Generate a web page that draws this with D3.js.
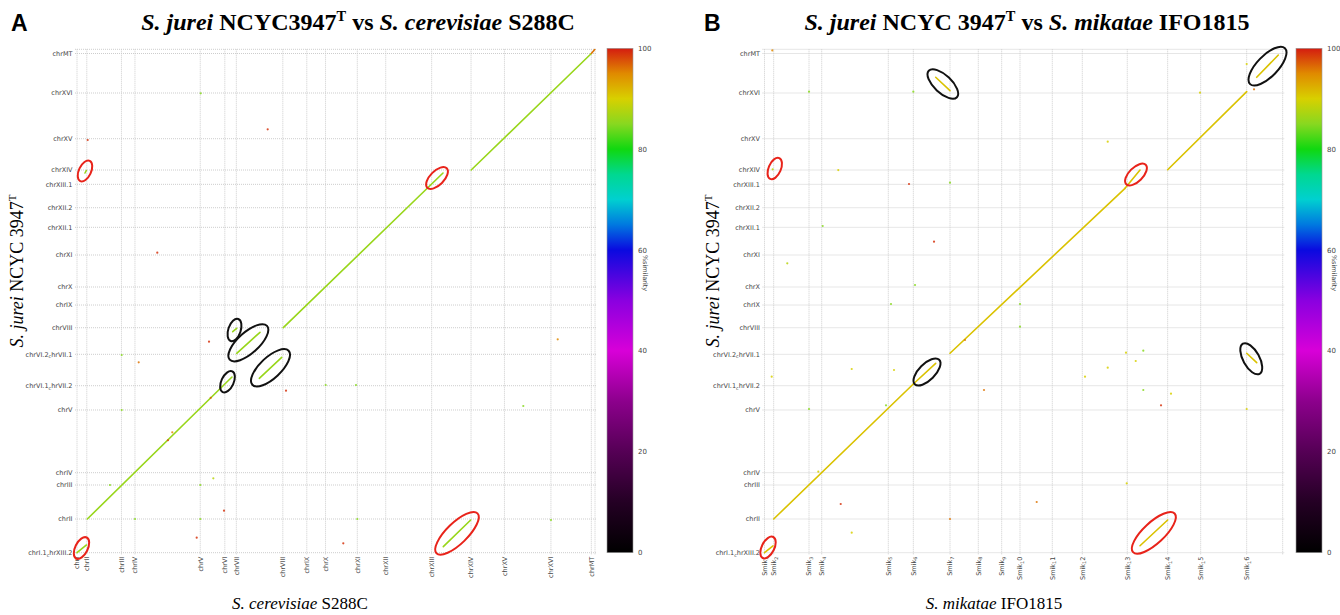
<!DOCTYPE html>
<html>
<head>
<meta charset="utf-8">
<script src="https://cdn.jsdelivr.net/npm/d3@7"></script>
<style>
  body { margin: 0; background: #fff; }
  svg { display: block; }
</style>
</head>
<body>
<svg id="chart" width="1340" height="615"></svg>
<script>
'use strict';

// chromosome order and sizes (kb), query genome S. jurei on y for both panels
const jureiChroms = ['chrI.1_chrXIII.2', 'chrII', 'chrIII', 'chrIV', 'chrV', 'chrVI.1_chrVII.2', 'chrVI.2_chrVII.1',
  'chrVIII', 'chrIX', 'chrX', 'chrXI', 'chrXII.1', 'chrXII.2', 'chrXIII.1', 'chrXIV', 'chrXV', 'chrXVI', 'chrMT'];
const jureiLengths = [791, 798, 289, 1472, 570, 737, 624, 533, 423, 751, 650, 460, 549, 336, 735, 1073, 927, 99];

const cerevisiaeChroms = ['chrI', 'chrII', 'chrIII', 'chrIV', 'chrV', 'chrVI', 'chrVII', 'chrVIII', 'chrIX', 'chrX',
  'chrXI', 'chrXII', 'chrXIII', 'chrXIV', 'chrXV', 'chrXVI', 'chrMT'];
const cerevisiaeLengths = [230, 813, 317, 1532, 577, 270, 1091, 563, 440, 745, 667, 1078, 924, 784, 1091, 948, 86];

const mikataeChroms = ['Smik_1', 'Smik_2', 'Smik_3', 'Smik_4', 'Smik_5', 'Smik_6', 'Smik_7', 'Smik_8', 'Smik_9',
  'Smik_10', 'Smik_11', 'Smik_12', 'Smik_13', 'Smik_14', 'Smik_15', 'Smik_16'];
const mikataeLengths = [216, 829, 298, 1563, 587, 861, 664, 549, 430, 758, 704, 1056, 948, 775, 1080, 845];

// alignments: [refStart, queryStart, refEnd, queryEnd, %similarity] in cumulative kb
const alignmentsA = [
  [0, 0, 223, 181, 86],
  [242, 791, 3637, 4124, 86],
  [3654, 5188, 3748, 5268, 86],
  [3748, 4681, 4294, 5174, 86],
  [4278, 4094, 4804, 4587, 86],
  [4841, 5282, 8589, 8913, 86],
  [8596, 141, 9239, 768, 86],
  [9250, 8983, 12070, 11718, 86],
  [12070, 11718, 12150, 11810, 96],
  [188, 8913, 218, 8972, 86]
];
const alignmentsB = [
  [0, 0, 200, 160, 91],
  [216, 791, 3493, 3960, 91],
  [3493, 3960, 4018, 4446, 91],
  [4018, 11160, 4354, 10845, 91],
  [4354, 4681, 8462, 8554, 91],
  [8462, 8554, 8814, 8983, 91],
  [8814, 164, 9463, 768, 91],
  [9463, 8990, 11318, 10822, 91],
  [11318, 4681, 11553, 4460, 91],
  [11553, 11160, 12060, 11683, 91]
];

// short scattered hits: [ref, query, %similarity]
const hitsA = [
  [2903, 10784, 85], [4475, 9939, 99], [251, 9688, 99], [1884, 7042, 99], [3098, 4953, 99],
  [1448, 4469, 96], [1049, 4641, 85], [1049, 3350, 85], [4905, 3803, 99], [2236, 2826, 95],
  [3199, 1746, 88], [774, 1589, 85], [2893, 1589, 85], [3450, 986, 99], [1361, 791, 85],
  [2893, 791, 85], [2809, 352, 99], [11281, 5009, 95], [5836, 3937, 85], [6547, 3937, 85],
  [10473, 3444, 85], [6578, 791, 85], [11123, 768, 85], [6249, 221, 99], [2135, 2640, 98],
  [3138, 3635, 97]
];
const hitsB = [
  [183, 11790, 95], [1045, 10822, 85], [3493, 10822, 85], [1732, 8983, 90], [3392, 8655, 99],
  [4354, 8685, 85], [1366, 7669, 85], [3979, 7300, 99], [535, 6793, 88], [3533, 6284, 85],
  [2969, 5838, 85], [5997, 5838, 85], [5997, 5305, 85], [4706, 4993, 96], [2047, 4312, 90],
  [3040, 4289, 90], [169, 4131, 90], [5152, 3819, 96], [2852, 3460, 85], [1045, 3373, 85],
  [1263, 1901, 90], [1789, 1143, 99], [6389, 1190, 96], [4354, 791, 96], [2047, 469, 90],
  [8485, 4695, 90], [8891, 4742, 85], [8713, 4500, 90], [8056, 4343, 90], [7523, 4131, 90],
  [8891, 3819, 85], [9541, 3732, 90], [9307, 3460, 99], [11318, 3373, 90], [8502, 1629, 90],
  [8056, 9648, 90], [10222, 10798, 90], [11490, 10878, 96], [11318, 11472, 90], [192, 9000, 88]
];

// highlighted regions: [refStart, queryStart, refEnd, queryEnd, kind]
const ringsA = [
  [171, 8925, 204, 8995, 'translocation'],
  [82, 63, 129, 157, 'translocation'],
  [8378, 8725, 8519, 8866, 'translocation'],
  [8596, 141, 9239, 768, 'translocation'],
  [3680, 5181, 3712, 5275, 'rearrangement'],
  [3748, 4681, 4294, 5174, 'rearrangement'],
  [4278, 4094, 4804, 4587, 'rearrangement'],
  [3513, 3972, 3551, 4054, 'rearrangement']
];
const ringsB = [
  [59, 75, 106, 169, 'translocation'],
  [223, 8979, 258, 9059, 'translocation'],
  [8649, 8807, 8790, 8948, 'translocation'],
  [8814, 164, 9463, 768, 'translocation'],
  [3685, 4113, 3943, 4371, 'rearrangement'],
  [4018, 11160, 4354, 10845, 'rearrangement'],
  [11553, 11160, 12060, 11683, 'rearrangement'],
  [11337, 4711, 11513, 4394, 'rearrangement']
];

// colour bar
const similarityStops = [0, 10, 20, 30, 40, 50, 60, 65, 70, 75, 80, 85, 90, 95, 100];
const similarityColors = ['#000000', '#240024', '#550055', '#8c008c', '#d800d8', '#8a00e0', '#0a0ae0', '#0078e0',
  '#00d0d0', '#00d890', '#10d810', '#88d820', '#d8d000', '#e08a00', '#d41c10'];
const barTicks = [0, 20, 40, 60, 80, 100];

const color = d3.scaleLinear().domain(similarityStops).range(similarityColors);
const ringColor = { translocation: '#e8231a', rearrangement: '#111111' };

const svg = d3.select('#chart');
const defs = svg.append('defs');
const grad = defs.append('linearGradient')
  .attr('id', 'simGrad')
  .attr('x1', 0).attr('y1', 1).attr('x2', 0).attr('y2', 0);
grad.selectAll('stop')
  .data(similarityStops)
  .join('stop')
  .attr('offset', d => d / 100)
  .attr('stop-color', (d, i) => similarityColors[i]);

const cumStarts = lengths => lengths.reduce((acc, l, i) => acc.concat(i ? acc[i - 1] + lengths[i - 1] : 0), []);

// "chrVI.2_chrVII.1" -> subscript the char after "_" (matplotlib style)
function subLabel(text, name) {
  const parts = name.split('_');
  text.append('tspan').text(parts[0]);
  parts.slice(1).forEach(p => {
    text.append('tspan').attr('dy', 1.6).attr('font-size', '75%').text(p[0]);
    text.append('tspan').attr('dy', -1.6).text(p.slice(1));
  });
}

function richText(text, parts, size) {
  let back = 0;
  parts.forEach(([str, style]) => {
    const t = text.append('tspan').text(str);
    if (style === 'i') t.attr('font-style', 'italic');
    if (style === 'sup') {
      t.attr('font-size', size * 0.6).attr('dy', -size * 0.38);
      back = size * 0.38;
    } else if (back) {
      t.attr('dy', back);
      back = 0;
    }
  });
}

const panels = [
  {
    letter: 'A', letterX: 11, titleX: 358, yTitleX: 23,
    title: [['S. jurei', 'i'], [' NCYC3947', ''], ['T', 'sup'], [' vs  ', ''], ['S. cerevisiae', 'i'], [' S288C', '']],
    xTitle: [['S. cerevisiae', 'i'], [' S288C', '']], xTitleX: 300,
    xChroms: cerevisiaeChroms, xLengths: cerevisiaeLengths,
    alignments: alignmentsA, hits: hitsA, rings: ringsA,
    left: 77, right: 595, barX: 607
  },
  {
    letter: 'B', letterX: 704, titleX: 1027, yTitleX: 719,
    title: [['S. jurei', 'i'], [' NCYC 3947', ''], ['T', 'sup'], [' vs  ', ''], ['S. mikatae', 'i'], [' IFO1815', '']],
    xTitle: [['S. mikatae', 'i'], [' IFO1815', '']], xTitleX: 994,
    xChroms: mikataeChroms, xLengths: mikataeLengths,
    alignments: alignmentsB, hits: hitsB, rings: ringsB,
    left: 764.5, right: 1282.7, barX: 1296
  }
];

const plotTop = 49.3;
const plotBottom = 552.7;

panels.forEach(p => {
  const g = svg.append('g');
  const xStarts = cumStarts(p.xLengths);
  const yStarts = cumStarts(jureiLengths);
  const xTotal = d3.sum(p.xLengths);
  const yTotal = d3.sum(jureiLengths);

  const x = d3.scaleLinear().domain([0, xTotal]).range([p.left, p.right]);
  const y = d3.scaleLinear().domain([0, yTotal]).range([plotBottom, plotTop]);

  // panel letter + title
  g.append('text')
    .attr('x', p.letterX).attr('y', 31)
    .attr('font-family', 'Liberation Sans, Arial, sans-serif')
    .attr('font-weight', 'bold').attr('font-size', 23)
    .text(p.letter);
  const title = g.append('text')
    .attr('x', p.titleX).attr('y', 30)
    .attr('text-anchor', 'middle')
    .attr('font-family', 'Liberation Serif, Times New Roman, serif')
    .attr('font-weight', 'bold').attr('font-size', 24);
  richText(title, p.title, 24);

  // dotted grid at chromosome boundaries
  g.selectAll('line.vgrid')
    .data(xStarts.concat(xTotal))
    .join('line')
    .attr('x1', d => x(d)).attr('x2', d => x(d))
    .attr('y1', plotTop).attr('y2', plotBottom + 2)
    .attr('stroke', '#cdcdcd').attr('stroke-width', 1).attr('stroke-dasharray', '1,1');
  g.selectAll('line.hgrid')
    .data(yStarts.concat(yTotal))
    .join('line')
    .attr('x1', p.left - 2).attr('x2', p.right + 2)
    .attr('y1', d => y(d)).attr('y2', d => y(d))
    .attr('stroke', '#cdcdcd').attr('stroke-width', 1).attr('stroke-dasharray', '1,1');

  // chromosome labels
  g.selectAll('text.ylab')
    .data(jureiChroms)
    .join('text')
    .attr('x', p.left - 4.5)
    .attr('y', (d, i) => y(yStarts[i]))
    .attr('dy', '0.35em')
    .attr('text-anchor', 'end')
    .attr('font-family', 'DejaVu Sans, Verdana, sans-serif')
    .attr('font-size', 6.5).attr('fill', '#444')
    .each(function(d) { subLabel(d3.select(this), d); });
  g.selectAll('text.xlab')
    .data(p.xChroms)
    .join('text')
    .attr('transform', (d, i) => `translate(${x(xStarts[i])},${plotBottom + 4}) rotate(-90)`)
    .attr('dy', '0.35em')
    .attr('text-anchor', 'end')
    .attr('font-family', 'DejaVu Sans, Verdana, sans-serif')
    .attr('font-size', 6.5).attr('fill', '#444')
    .each(function(d) { subLabel(d3.select(this), d); });

  // axis titles
  const xt = g.append('text')
    .attr('x', p.xTitleX).attr('y', 609)
    .attr('text-anchor', 'middle')
    .attr('font-family', 'Liberation Serif, Times New Roman, serif')
    .attr('font-size', 17);
  richText(xt, p.xTitle, 17);
  const yt = g.append('text')
    .attr('transform', `translate(${p.yTitleX},271) rotate(-90)`)
    .attr('text-anchor', 'middle')
    .attr('font-family', 'Liberation Serif, Times New Roman, serif')
    .attr('font-size', 18);
  richText(yt, [['S. jurei', 'i'], [' NCYC 3947', ''], ['T', 'sup']], 18);

  // alignments
  g.selectAll('line.aln')
    .data(p.alignments)
    .join('line')
    .attr('x1', d => x(d[0])).attr('y1', d => y(d[1]))
    .attr('x2', d => x(d[2])).attr('y2', d => y(d[3]))
    .attr('stroke', d => color(d[4]))
    .attr('stroke-width', 1.6)
    .attr('stroke-linecap', 'round');

  g.selectAll('circle.hit')
    .data(p.hits)
    .join('circle')
    .attr('cx', d => x(d[0])).attr('cy', d => y(d[1]))
    .attr('r', 1.1)
    .attr('fill', d => color(d[2]))
    .attr('opacity', 0.85);

  // annotation ellipses around highlighted regions
  g.selectAll('ellipse.ring')
    .data(p.rings)
    .join('ellipse')
    .each(function(d) {
      const x1 = x(d[0]), y1 = y(d[1]), x2 = x(d[2]), y2 = y(d[3]);
      const len = Math.hypot(x2 - x1, y2 - y1);
      const angle = Math.atan2(y2 - y1, x2 - x1) * 180 / Math.PI;
      d3.select(this)
        .attr('cx', 0).attr('cy', 0)
        .attr('rx', len / 2 + 9.5)
        .attr('ry', Math.min(10.5, 5.5 + len * 0.17))
        .attr('transform', `translate(${(x1 + x2) / 2},${(y1 + y2) / 2}) rotate(${angle})`);
    })
    .attr('fill', 'none')
    .attr('stroke', d => ringColor[d[4]])
    .attr('stroke-width', 2);

  // colour bar
  const bar = d3.scaleLinear().domain([0, 100]).range([plotBottom, plotTop - 1]);
  g.append('rect')
    .attr('x', p.barX).attr('y', bar(100))
    .attr('width', 26).attr('height', bar(0) - bar(100))
    .attr('fill', 'url(#simGrad)')
    .attr('stroke', '#999').attr('stroke-width', 0.6);
  g.selectAll('text.bartick')
    .data(barTicks)
    .join('text')
    .attr('x', p.barX + 31).attr('y', d => bar(d))
    .attr('dy', '0.35em')
    .attr('font-family', 'DejaVu Sans, Verdana, sans-serif')
    .attr('font-size', 7).attr('fill', '#444')
    .text(d => d);
  g.append('text')
    .attr('transform', `translate(${p.barX + 36},273) rotate(90)`)
    .attr('text-anchor', 'middle')
    .attr('font-family', 'DejaVu Sans, Verdana, sans-serif')
    .attr('font-size', 6.5).attr('fill', '#444')
    .text('%similarity');
});
</script>
</body>
</html>
